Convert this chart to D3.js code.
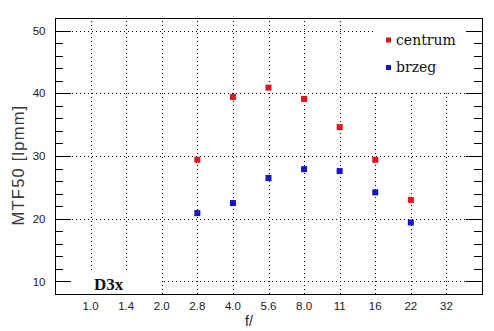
<!DOCTYPE html>
<html>
<head>
<meta charset="utf-8">
<script src="https://cdn.jsdelivr.net/npm/d3@7"></script>
<style>
  html, body { margin: 0; padding: 0; background: #fff; }
  svg { display: block; }
  .tick-label { font-family: "Liberation Sans", Arial, sans-serif; font-size: 11.5px; fill: #1a1a1a; }
</style>
</head>
<body>
<svg id="chart" width="494" height="331"></svg>
<script>
// f-stops on the horizontal axis
const apertures = ["1.0", "1.4", "2.0", "2.8", "4.0", "5.6", "8.0", "11", "16", "22", "32"];
const measuredStops = ["2.8", "4.0", "5.6", "8.0", "11", "16", "22"];
// MTF50 in lp/mm
const centrum = [29.4, 39.4, 40.9, 39.1, 34.6, 29.4, 23.0];
const brzeg   = [20.9, 22.5, 26.5, 27.9, 27.6, 24.2, 19.4];
const yMajorTicks = [10, 20, 30, 40, 50];
const yMinorTicks = [12, 14, 16, 18, 22, 24, 26, 28, 32, 34, 36, 38, 42, 44, 46, 48];

const series = [
  { name: "centrum", values: centrum, color: "#e3121a" },
  { name: "brzeg",   values: brzeg,   color: "#1414cc" }
];

const svg = d3.select("#chart");
const L = 55, R = 482, T = 18, B = 294;

const x = d3.scalePoint().domain(apertures).range([L, R]).padding(1);
const y = d3.scaleLinear().domain([8, 52]).range([B, T]);

const grid = svg.append("g").attr("stroke", "#000").attr("stroke-width", 1)
  .attr("stroke-dasharray", "1,3").attr("shape-rendering", "crispEdges");

// dotted vertical grid
grid.selectAll("line.v").data(apertures).join("line")
  .attr("x1", d => Math.round(x(d)) + 0.5).attr("x2", d => Math.round(x(d)) + 0.5)
  .attr("y1", T + 3).attr("y2", B);

// dotted horizontal grid
grid.selectAll("line.h").data(yMajorTicks).join("line")
  .attr("y1", d => Math.round(y(d)) + 0.5).attr("y2", d => Math.round(y(d)) + 0.5)
  .attr("x1", L + 17).attr("x2", R - 14);

// white panels behind the legend and the lens name
svg.append("rect").attr("x", 373).attr("y", T + 1).attr("width", 94).attr("height", 73).attr("fill", "#fff");
svg.append("rect").attr("x", L + 17).attr("y", 272).attr("width", 89).attr("height", B - 272).attr("fill", "#fff");

// ticks on both vertical sides, pointing inward
const ticks = svg.append("g").attr("stroke", "#000").attr("stroke-width", 1).attr("shape-rendering", "crispEdges");
function drawTicks(vals, len) {
  vals.forEach(v => {
    const yy = Math.round(y(v)) + 0.5;
    ticks.append("line").attr("x1", L).attr("x2", L + len).attr("y1", yy).attr("y2", yy);
    ticks.append("line").attr("x1", R).attr("x2", R - len).attr("y1", yy).attr("y2", yy);
  });
}
drawTicks(yMajorTicks, 16);
drawTicks(yMinorTicks, 8);

// frame
svg.append("rect").attr("x", L + 0.5).attr("y", T + 0.5).attr("width", R - L).attr("height", B - T)
  .attr("fill", "none").attr("stroke", "#000").attr("stroke-width", 1).attr("shape-rendering", "crispEdges");

// y tick labels
svg.append("g").selectAll("text").data(yMajorTicks).join("text")
  .attr("class", "tick-label").attr("text-anchor", "end")
  .attr("x", 45.5).attr("y", d => y(d)).attr("dy", "0.36em")
  .text(d => d);

// x tick labels
svg.append("g").selectAll("text").data(apertures).join("text")
  .attr("class", "tick-label").attr("text-anchor", "middle")
  .attr("x", d => x(d)).attr("y", 309.5)
  .text(d => d);

// axis titles
svg.append("text").attr("x", 249).attr("y", 325.5)
  .attr("text-anchor", "middle")
  .style("font-family", "'Liberation Sans', Arial, sans-serif").style("font-size", "14px").attr("fill", "#1a1a1a")
  .text("f/");

svg.append("text").attr("transform", "translate(24,165) rotate(-90)")
  .attr("text-anchor", "middle")
  .style("font-family", "'Liberation Sans', Arial, sans-serif").style("font-size", "16.5px")
  .style("letter-spacing", "1.2px").attr("fill", "#3a3a3a")
  .text("MTF50 [lpmm]");

// lens name
svg.append("text").attr("x", 94).attr("y", 290)
  .style("font-family", "'Liberation Serif', 'Times New Roman', serif").style("font-size", "17px")
  .style("font-weight", "bold").attr("fill", "#111")
  .text("D3x");

// data points
const ms = 6;
series.forEach(s => {
  svg.append("g").selectAll("rect").data(measuredStops.map((k, i) => ({ k, v: s.values[i] }))).join("rect")
    .attr("x", d => x(d.k) - ms / 2).attr("y", d => y(d.v) - ms / 2)
    .attr("width", ms).attr("height", ms).attr("fill", s.color);
});

// legend
const legend = svg.append("g");
series.forEach((s, i) => {
  const cy = 40 + i * 27.5;
  legend.append("rect").attr("x", 386).attr("y", cy - 2.5).attr("width", 5).attr("height", 5).attr("fill", s.color);
  legend.append("text").attr("x", 396).attr("y", cy + 4.5)
    .style("font-family", "'DejaVu Serif', serif").style("font-size", "14px").attr("fill", "#111")
    .text(s.name);
});
</script>
</body>
</html>
